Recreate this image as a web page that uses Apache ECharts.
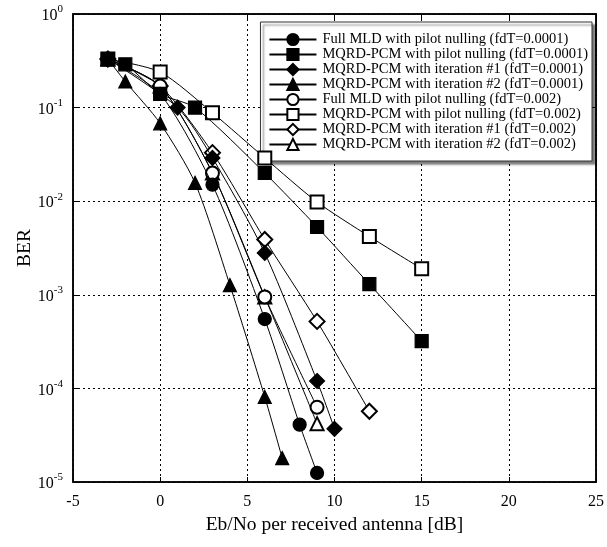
<!DOCTYPE html>
<html>
<head>
<meta charset="utf-8">
<script src="https://cdn.jsdelivr.net/npm/echarts@6/dist/echarts.min.js"></script>
<style>
  html, body { margin: 0; padding: 0; background: #fff; }
  #main { width: 607px; height: 547px; }
</style>
</head>
<body>
<div id="main"></div>
<script>
// series names (legend order)
const seriesNames = [
  'Full MLD with pilot nulling (fdT=0.0001)',
  'MQRD-PCM with pilot nulling (fdT=0.0001)',
  'MQRD-PCM with iteration #1 (fdT=0.0001)',
  'MQRD-PCM with iteration #2 (fdT=0.0001)',
  'Full MLD with pilot nulling (fdT=0.002)',
  'MQRD-PCM with pilot nulling (fdT=0.002)',
  'MQRD-PCM with iteration #1 (fdT=0.002)',
  'MQRD-PCM with iteration #2 (fdT=0.002)'
]
const symbols = ['circle', 'rect', 'diamond', 'triangle', 'emptyCircle', 'emptyRect', 'emptyDiamond', 'emptyTriangle']

// [Eb/No dB, BER]
const mldFilled = [[-3, 0.33], [0, 0.14], [3, 0.015], [6, 0.00055], [8, 4.1e-5], [9, 1.25e-5]]
const pcmFilled = [[-3, 0.33], [-2, 0.29], [0, 0.14], [2, 0.1], [6, 0.02], [9, 0.0053], [12, 0.0013], [15, 0.00032]]
const it1Filled = [[-3, 0.33], [1, 0.1], [3, 0.029], [6, 0.0028], [9, 0.00012], [10, 3.7e-5]]
const it2Filled = [[-3, 0.33], [-2, 0.19], [0, 0.068], [2, 0.0157], [4, 0.00127], [6, 8.1e-5], [7, 1.8e-5]]
const mldOpen = [[-3, 0.33], [0, 0.17], [3, 0.02], [6, 0.00095], [9, 6.3e-5]]
const pcmOpen = [[-3, 0.33], [0, 0.24], [3, 0.088], [6, 0.029], [9, 0.0098], [12, 0.0042], [15, 0.0019]]
const it1Open = [[-3, 0.33], [0, 0.17], [3, 0.033], [6, 0.0039], [9, 0.00052], [12, 5.7e-5]]
const it2Open = [[-3, 0.33], [0, 0.17], [3, 0.02], [6, 0.00095], [9, 4.2e-5]]

const allData = [mldFilled, pcmFilled, it1Filled, it2Filled, mldOpen, pcmOpen, it1Open, it2Open]

const serif = '"Liberation Serif", "DejaVu Serif", serif'

const chart = echarts.init(document.getElementById('main'))

const series = allData.map((d, i) => ({
  name: seriesNames[i],
  type: 'line',
  data: d,
  xAxisIndex: 0,
  yAxisIndex: 0,
  smooth: 0.25,
  symbol: symbols[i],
  symbolSize: symbols[i].indexOf('iamond') >= 0 ? 15 : 13,
  color: '#000',
  lineStyle: { color: '#000', width: 1 },
  itemStyle: { color: '#000', borderColor: '#000', borderWidth: 1.2 },
  z: 10 - i
}))

const dotted = { lineStyle: { color: '#000', type: [2, 3], width: 1 } }
const tickIn = { inside: true, length: 5, lineStyle: { color: '#000' } }

const option = {
  animation: false,
  backgroundColor: '#fff',
  grid: { left: 73, right: 9, top: 14, bottom: 65, show: true, borderColor: '#000', borderWidth: 1.5 },
  legend: {
    orient: 'vertical',
    right: 15,
    top: 22,
    itemWidth: 47,
    itemHeight: 14,
    itemGap: 0,
    padding: [10, 4, 9, 8],
    backgroundColor: '#fff',
    borderColor: '#333',
    borderWidth: 1,
    shadowColor: 'rgba(0,0,0,0.5)',
    shadowOffsetX: 3,
    shadowOffsetY: 3,
    shadowBlur: 2,
    textStyle: { fontFamily: serif, fontSize: 14.5, lineHeight: 14, color: '#000', padding: [0, 0, 0, 1] },
    data: seriesNames
  },
  xAxis: [{
    type: 'value',
    min: -5,
    max: 25,
    interval: 5,
    name: 'Eb/No per received antenna [dB]',
    nameLocation: 'middle',
    nameGap: 32,
    nameTextStyle: { fontFamily: serif, fontSize: 19.5, color: '#000' },
    axisLine: { onZero: false, lineStyle: { color: '#000', width: 1.5 } },
    axisTick: tickIn,
    axisLabel: { fontFamily: serif, fontSize: 16, color: '#000', margin: 12 },
    splitLine: dotted
  }, {
    type: 'value',
    position: 'top',
    min: -5,
    max: 25,
    interval: 5,
    axisLine: { onZero: false, lineStyle: { color: '#000', width: 1.5 } },
    axisTick: tickIn,
    axisLabel: { show: false },
    splitLine: { show: false }
  }],
  yAxis: [{
    type: 'log',
    logBase: 10,
    min: 1e-5,
    max: 1,
    name: 'BER',
    nameLocation: 'middle',
    nameGap: 38,
    nameRotate: 90,
    nameMoveOverlap: false,
    nameTextStyle: { fontFamily: serif, fontSize: 19.5, color: '#000' },
    axisLine: { onZero: false, lineStyle: { color: '#000', width: 1.5 } },
    axisTick: tickIn,
    axisLabel: {
      margin: 10,
      formatter: function (v) {
        const e = Math.round(Math.log10(v))
        return '{b|10}{s|' + e + '}'
      },
      rich: {
        b: { fontFamily: serif, fontSize: 16, color: '#000', verticalAlign: 'bottom' },
        s: { fontFamily: serif, fontSize: 11, color: '#000', verticalAlign: 'top', padding: [0, 0, 9, 0] }
      }
    },
    splitLine: dotted
  }, {
    type: 'log',
    logBase: 10,
    min: 1e-5,
    max: 1,
    position: 'right',
    axisLine: { onZero: false, lineStyle: { color: '#000', width: 1.5 } },
    axisTick: tickIn,
    axisLabel: { show: false },
    splitLine: { show: false }
  }],
  series: series
}

chart.setOption(option)
</script>
</body>
</html>
